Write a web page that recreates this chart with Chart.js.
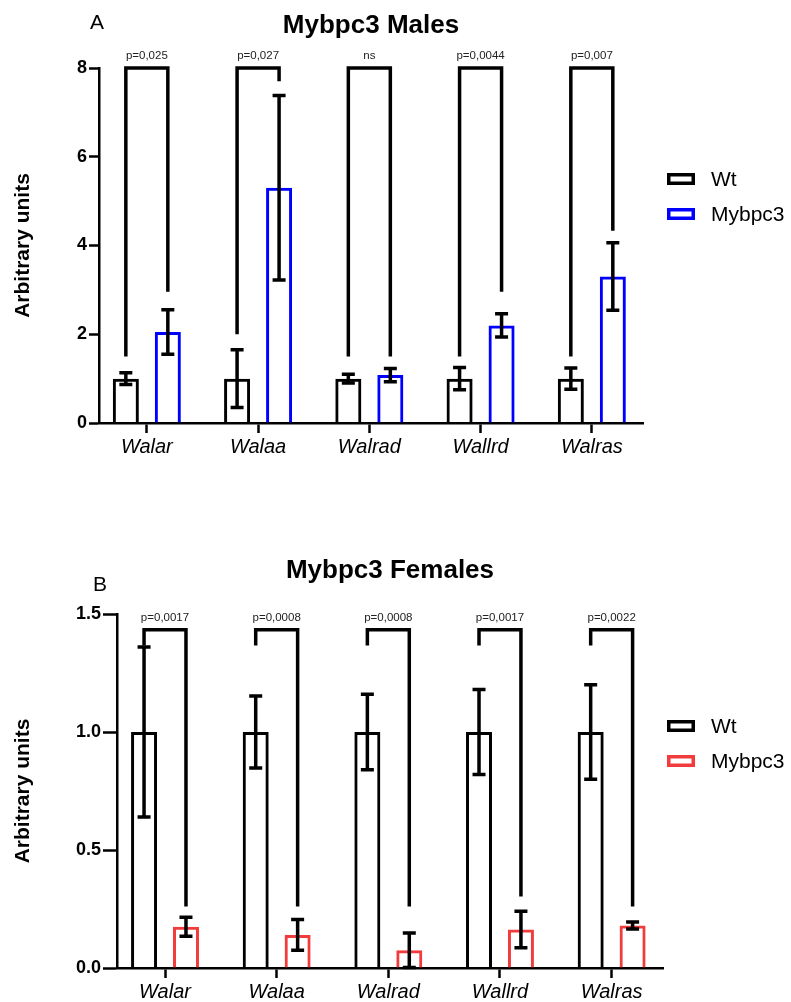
<!DOCTYPE html>
<html>
<head>
<meta charset="utf-8">
<script src="https://cdn.jsdelivr.net/npm/chart.js@4/dist/chart.umd.min.js"></script>
<style>
  html, body { margin: 0; padding: 0; background: #fff; }
  #wrap { position: relative; width: 791px; height: 1002px; overflow: hidden; }
  canvas { position: absolute; left: 0; }
  #males { top: 0; }
  #females { top: 540px; }
</style>
</head>
<body>
<div id="wrap">
  <canvas id="males" width="791" height="480"></canvas>
  <canvas id="females" width="791" height="462"></canvas>
</div>
<script>
// Genes on the x axis and the two groups compared
const genes = ['Walar', 'Walaa', 'Walrad', 'Wallrd', 'Walras'];
const groups = ['Wt', 'Mybpc3'];

// Males: means and SD
const malesWt = [1, 1, 1, 1, 1];
const malesWtSd = [0.135, 0.65, 0.1, 0.25, 0.24];
const malesMut = [2.05, 5.3, 1.08, 2.2, 3.3];
const malesMutSd = [0.5, 2.08, 0.15, 0.26, 0.76];
const malesTicks = [0, 2, 4, 6, 8];
const malesP = ['p=0,025', 'p=0,027', 'ns', 'p=0,0044', 'p=0,007'];
const malesBracketTop = 8;
const malesBracketLeft = [1.5, 2.0, 1.5, 1.5, 1.5];
const malesBracketRight = [2.96, 7.7, 1.5, 2.96, 4.33];

// Females: means and SD
const femalesWt = [1, 1, 1, 1, 1];
const femalesWtSd = [0.36, 0.153, 0.16, 0.18, 0.2];
const femalesMut = [0.175, 0.14, 0.075, 0.163, 0.18];
const femalesMutSd = [0.04, 0.065, 0.073, 0.077, 0.015];
const femalesTicks = [0, 0.5, 1.0, 1.5];
const femalesP = ['p=0,0017', 'p=0,0008', 'p=0,0008', 'p=0,0017', 'p=0,0022'];
const femalesBracketTop = 1.433;
const femalesBracketLeft = [1.366, 1.366, 1.366, 1.366, 1.366];
const femalesBracketRight = [0.261, 0.261, 0.261, 0.303, 0.261];

const FONT = "'Liberation Sans', Arial, Helvetica, sans-serif";
Chart.defaults.font.family = FONT;
Chart.defaults.color = '#000';

function overlayPlugin(o) {
  return {
    id: 'overlay',
    afterDatasetsDraw(chart) {
      const ctx = chart.ctx;
      const y = chart.scales.y;
      ctx.save();
      ctx.strokeStyle = '#000';
      ctx.lineWidth = 3.5;
      ctx.lineCap = 'butt';
      ctx.lineJoin = 'miter';
      // mean ± SD whiskers
      chart.data.datasets.forEach((ds, di) => {
        const meta = chart.getDatasetMeta(di);
        meta.data.forEach((bar, i) => {
          const m = ds.data[i].y, sd = o.sd[di][i];
          const yt = y.getPixelForValue(m + sd);
          const yb = y.getPixelForValue(Math.max(m - sd, 0));
          ctx.beginPath();
          ctx.moveTo(bar.x, yt); ctx.lineTo(bar.x, yb);
          ctx.moveTo(bar.x - 6.5, yt); ctx.lineTo(bar.x + 6.5, yt);
          ctx.moveTo(bar.x - 6.5, yb); ctx.lineTo(bar.x + 6.5, yb);
          ctx.stroke();
        });
      });
      // significance brackets
      const m0 = chart.getDatasetMeta(0), m1 = chart.getDatasetMeta(1);
      const yTop = y.getPixelForValue(o.bracketTop);
      genes.forEach((g, i) => {
        const xl = m0.data[i].x, xr = m1.data[i].x;
        ctx.beginPath();
        ctx.moveTo(xl, y.getPixelForValue(o.bracketLeft[i]));
        ctx.lineTo(xl, yTop);
        ctx.lineTo(xr, yTop);
        ctx.lineTo(xr, y.getPixelForValue(o.bracketRight[i]));
        ctx.stroke();
        ctx.fillStyle = '#222';
        ctx.font = '11.5px ' + FONT;
        ctx.textAlign = 'center';
        ctx.textBaseline = 'alphabetic';
        ctx.fillText(o.pLabels[i], (xl + xr) / 2, yTop - 9);
      });
      ctx.restore();
    },
    afterDraw(chart) {
      const ctx = chart.ctx;
      const a = chart.chartArea;
      ctx.save();
      // chart title
      ctx.fillStyle = '#000';
      ctx.font = 'bold 26px ' + FONT;
      ctx.textAlign = 'center';
      ctx.textBaseline = 'alphabetic';
      ctx.fillText(o.title, (a.left + a.right) / 2, o.titleBaseline);
      // panel letter
      ctx.font = '21px ' + FONT;
      ctx.textAlign = 'left';
      ctx.fillText(o.letter, o.letterX, o.letterBaseline);
      // legend
      ctx.font = '21px ' + FONT;
      ctx.textBaseline = 'middle';
      groups.forEach((name, i) => {
        const cy = o.legendY[i];
        ctx.strokeStyle = chart.data.datasets[i].borderColor;
        ctx.lineWidth = 3.5;
        ctx.strokeRect(668.75, cy - 4.25, 24.5, 8.5);
        ctx.fillStyle = '#000';
        ctx.fillText(name, 711, cy + 1);
      });
      ctx.restore();
    }
  };
}

function makeChart(id, o) {
  const canvas = document.getElementById(id);
  const H = canvas.height;
  return new Chart(canvas, {
    type: 'bar',
    data: {
      datasets: [
        {
          label: groups[0],
          data: o.wt.map((v, i) => ({ x: i, y: v })),
          backgroundColor: 'rgba(0,0,0,0)',
          borderColor: '#000',
          borderWidth: 3,
          borderSkipped: 'start',
          categoryPercentage: o.cp,
          barPercentage: 0.62
        },
        {
          label: groups[1],
          data: o.mut.map((v, i) => ({ x: i, y: v })),
          backgroundColor: 'rgba(0,0,0,0)',
          borderColor: o.color,
          borderWidth: 3,
          borderSkipped: 'start',
          categoryPercentage: o.cp,
          barPercentage: 0.62
        }
      ]
    },
    options: {
      responsive: false,
      animation: false,
      devicePixelRatio: 1,
      layout: { padding: { top: o.top, right: 791 - o.right, bottom: 0, left: 0 } },
      plugins: { legend: { display: false }, tooltip: { enabled: false } },
      scales: {
        x: {
          type: 'linear',
          offset: false,
          min: -0.43,
          max: 4.46,
          afterBuildTicks: (s) => { s.ticks = genes.map((g, i) => ({ value: i })); },
          afterFit: (s) => { s.height = H - o.bottom; },
          ticks: {
            callback: (v) => genes[v],
            font: { size: 20, style: 'italic' },
            color: '#000',
            padding: 2,
            maxRotation: 0,
            autoSkip: false
          },
          grid: { offset: false, drawOnChartArea: false, tickLength: 10, tickWidth: 2.5, tickColor: '#000' },
          border: { display: true, color: '#000', width: 2.5 }
        },
        y: {
          min: o.ticks[0],
          max: o.ticks[o.ticks.length - 1],
          afterBuildTicks: (s) => { s.ticks = o.ticks.map(v => ({ value: v })); },
          afterFit: (s) => { s.width = o.left; },
          ticks: {
            callback: o.fmt,
            font: { size: 18, weight: 'bold' },
            color: '#000',
            padding: 2
          },
          grid: { drawOnChartArea: false, tickLength: o.yTick, tickWidth: 2.5, tickColor: '#000' },
          border: { display: true, color: '#000', width: 2.5 },
          title: {
            display: true,
            text: 'Arbitrary units',
            font: { size: 21, weight: 'bold' },
            color: '#000',
            padding: { top: 11, bottom: 0 }
          }
        }
      }
    },
    plugins: [overlayPlugin(o)]
  });
}

makeChart('males', {
  wt: malesWt, mut: malesMut, sd: [malesWtSd, malesMutSd],
  color: '#0000FF', cp: 0.755,
  ticks: malesTicks, fmt: (v) => String(v),
  top: 68, bottom: 423, left: 99, right: 643, yTick: 10,
  pLabels: malesP, bracketTop: malesBracketTop,
  bracketLeft: malesBracketLeft, bracketRight: malesBracketRight,
  title: 'Mybpc3 Males', titleBaseline: 33,
  letter: 'A', letterX: 90, letterBaseline: 29,
  legendY: [179, 214]
});

makeChart('females', {
  wt: femalesWt, mut: femalesMut, sd: [femalesWtSd, femalesMutSd],
  color: '#F23C3C', cp: 0.751,
  ticks: femalesTicks, fmt: (v) => v.toFixed(1),
  top: 74, bottom: 428, left: 117, right: 663, yTick: 14,
  pLabels: femalesP, bracketTop: femalesBracketTop,
  bracketLeft: femalesBracketLeft, bracketRight: femalesBracketRight,
  title: 'Mybpc3 Females', titleBaseline: 38,
  letter: 'B', letterX: 93, letterBaseline: 51,
  legendY: [186, 221]
});
</script>
</body>
</html>
